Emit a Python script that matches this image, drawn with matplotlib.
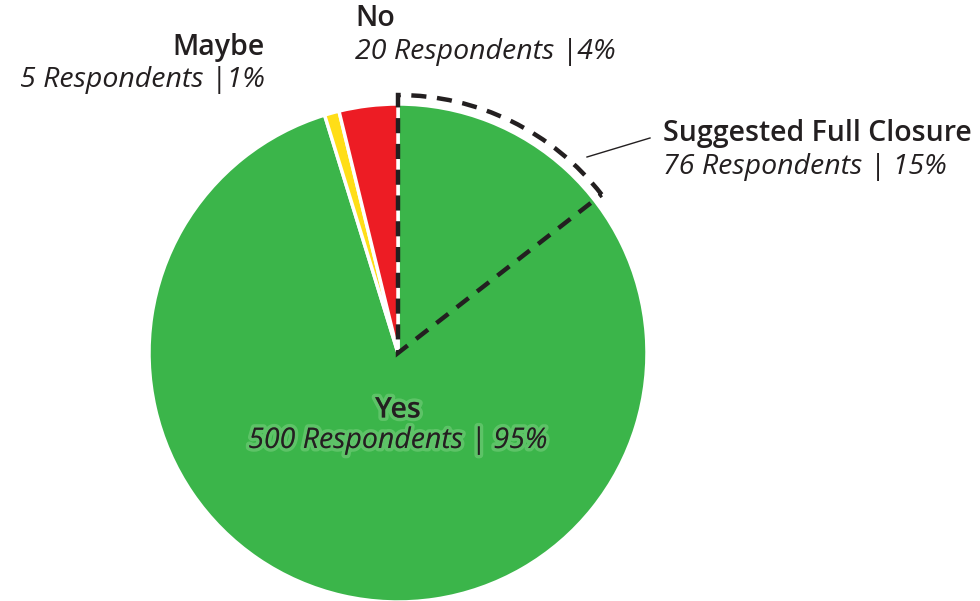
import matplotlib
matplotlib.use("Agg")
import matplotlib.pyplot as plt
from matplotlib.patches import Wedge
import matplotlib.patheffects as pe

categories = ["Yes", "Maybe", "No"]
respondents = [500, 5, 20]
percent_labels = ["95%", "1%", "4%"]
colors = ["#3BB54A", "#FFDE17", "#ED1C24"]
closure_count = 76
closure_pct = "15%"

W, H = 980, 601
fig = plt.figure(figsize=(W / 100, H / 100), dpi=100)
ax = fig.add_axes([0, 0, 1, 1])
ax.set_xlim(0, W)
ax.set_ylim(0, H)
ax.set_aspect("equal")
ax.axis("off")

cx, cy, r = 398, H - 353, 249
ax.pie(respondents, colors=colors, startangle=90, counterclock=False,
       center=(cx, cy), radius=r, frame=True,
       wedgeprops=dict(edgecolor="white", linewidth=2.5))
ax.set_xlim(0, W)
ax.set_ylim(0, H)
ax.axis("off")

total = sum(respondents)
ang = closure_count / total * 360
dash = Wedge((cx, cy), 258, 90 - ang, 90, fill=False, edgecolor="#231F20",
             linewidth=3.2, linestyle=(0, (3.4, 2.4)), joinstyle="miter", zorder=5)
ax.add_patch(dash)

ax.plot([587, 650], [H - 157, H - 138], color="#231F20", lw=1, zorder=5)

dark = "#231F20"
fam = ["Open Sans", "DejaVu Sans"]
fs = 20.5

def lab(x, y, t, ha, bold, **kw):
    ax.text(x, H - y, t, ha=ha, va="center", fontsize=fs, color=dark,
            family=fam, fontweight="semibold" if bold else "normal",
            style="normal" if bold else "italic", zorder=6, **kw)

glow = [pe.withStroke(linewidth=5, foreground=(0.62, 0.88, 0.62, 0.35))]
lab(398, 410, categories[0], "center", True, path_effects=glow)
lab(398, 441, f"{respondents[0]} Respondents | {percent_labels[0]}", "center", False, path_effects=glow)
lab(265, 47, categories[1], "right", True)
lab(265, 80, f"{respondents[1]} Respondents |{percent_labels[1]}", "right", False)
lab(355, 18, categories[2], "left", True)
lab(355, 52, f"{respondents[2]} Respondents |{percent_labels[2]}", "left", False)
lab(663, 133, "Suggested Full Closure", "left", True)
lab(663, 167, f"{closure_count} Respondents | {closure_pct}", "left", False)

fig.savefig("out.png", dpi=100)
